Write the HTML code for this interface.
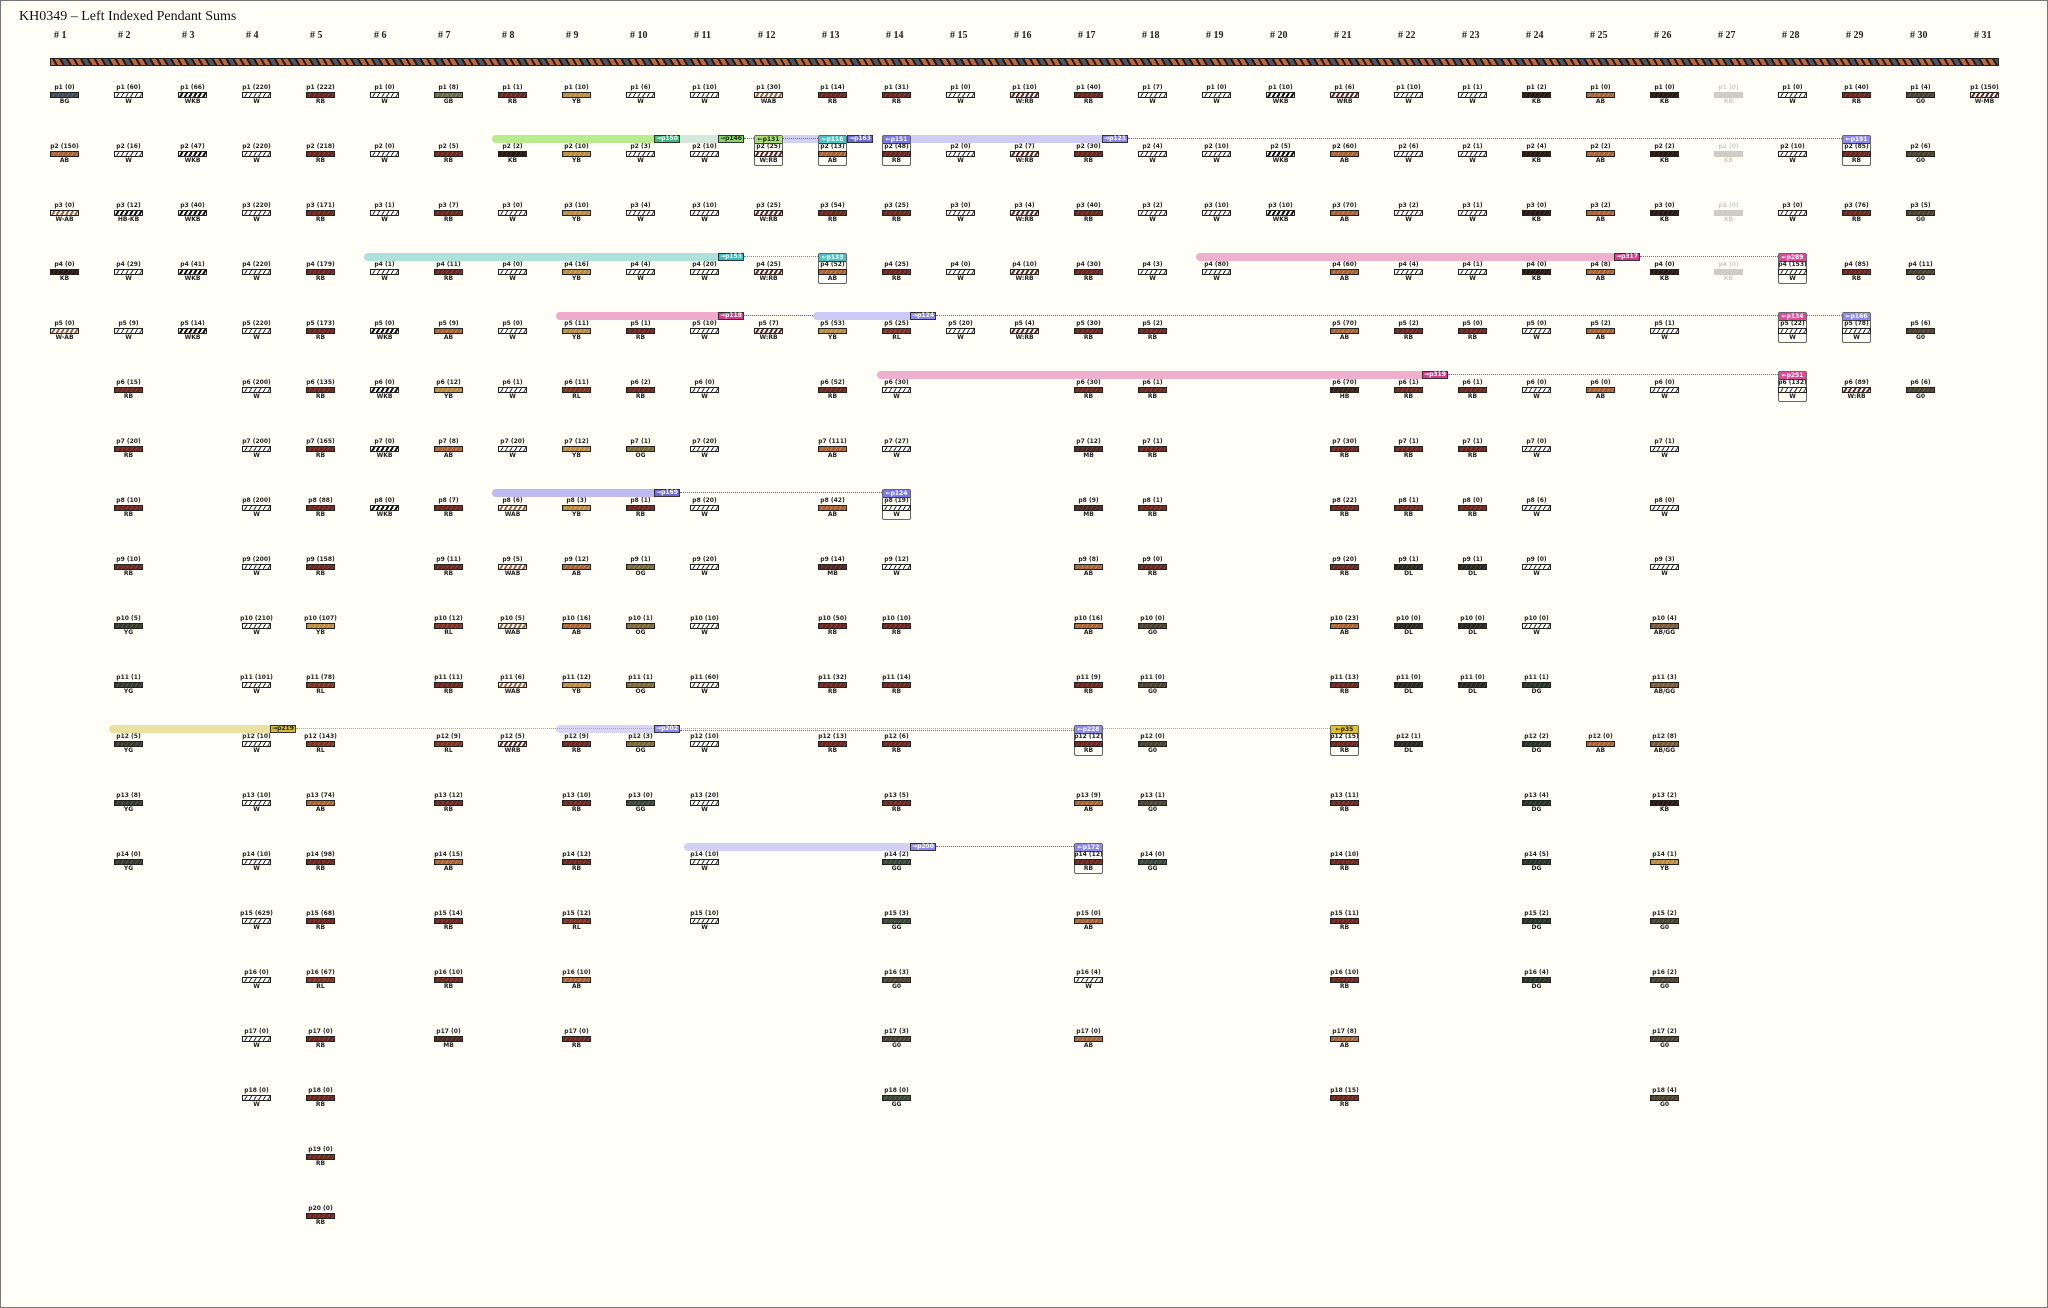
<!DOCTYPE html>
<html><head><meta charset="utf-8"><style>
*{box-sizing:border-box}
body{margin:0;width:2048px;height:1308px;background:#fffef7;border:1px solid #777;position:relative;overflow:hidden;font-family:"Liberation Sans",sans-serif}
.t{position:absolute;left:18px;top:7px;font:14px/18px "Liberation Serif",serif;color:#111}
.h{position:absolute;top:30px;font:10px/10px "Liberation Serif",serif;color:#222;font-weight:bold}
.rope{position:absolute;left:49px;top:57px;width:1949px;height:8px;border:1px solid #222;background:repeating-linear-gradient(60deg,#b86a40 0 4px,#2a1510 4px 6px,#b86a40 6px 10px,#2a1510 10px 12px,#4a5866 12px 16px,#2a1510 16px 18px)}
.k{position:absolute;top:84px;width:40px;font:bold 6px/6.5px "DejaVu Sans",sans-serif;text-align:center;color:#222;white-space:nowrap}
.k div{height:59px}
.k i{display:block;width:29px;height:6px;margin:0 auto 1px;border:1px solid #222}
.w{background:#fff repeating-linear-gradient(120deg,transparent 0 3px,#333 3px 4px)}
.wk{background:#fff repeating-linear-gradient(120deg,transparent 0 2px,#111 2px 4px)}
.wr{background:#fff repeating-linear-gradient(120deg,transparent 0 2px,#6b2820 2px 4px)}
.wa{background:#fff repeating-linear-gradient(120deg,transparent 0 2px,#a86238 2px 4px)}
.rb{background:repeating-linear-gradient(120deg,#6b2820 0 3px,#8e4036 3px 4px)}
.ab{background:repeating-linear-gradient(120deg,#a86238 0 3px,#c8844e 3px 4px)}
.kb{background:repeating-linear-gradient(120deg,#2a1810 0 3px,#48302a 3px 4px)}
.yb{background:repeating-linear-gradient(120deg,#b88c40 0 3px,#d4a860 3px 4px)}
.rl{background:repeating-linear-gradient(120deg,#7a3424 0 3px,#a05040 3px 4px)}
.yg{background:repeating-linear-gradient(120deg,#353a2e 0 3px,#555a48 3px 4px)}
.bg{background:repeating-linear-gradient(120deg,#3e4c58 0 3px,#5a6a78 3px 4px)}
.gb{background:repeating-linear-gradient(120deg,#6a6a48 0 3px,#8a8a64 3px 4px)}
.mb{background:repeating-linear-gradient(120deg,#4a2a22 0 3px,#6a4238 3px 4px)}
.hb{background:repeating-linear-gradient(120deg,#3a2018 0 3px,#583a2e 3px 4px)}
.og{background:repeating-linear-gradient(120deg,#7a6838 0 3px,#9a8850 3px 4px)}
.gg{background:repeating-linear-gradient(120deg,#3a4838 0 3px,#566454 3px 4px)}
.g0{background:repeating-linear-gradient(120deg,#4a4230 0 3px,#6a6048 3px 4px)}
.dl{background:repeating-linear-gradient(120deg,#28261e 0 3px,#46443a 3px 4px)}
.dg{background:repeating-linear-gradient(120deg,#263426 0 3px,#445244 3px 4px)}
.ag{background:repeating-linear-gradient(120deg,#7a5a38 0 3px,#9a7a50 3px 4px)}
.fd{opacity:.22}
.bd{position:absolute;height:8px}
.tg{position:absolute;height:8px;width:26px;border:1px solid #333;font:bold 6px/6px "DejaVu Sans",sans-serif;color:#fff;text-align:center}
.bx{position:absolute;width:29px;height:31px;border:1px solid #666;border-radius:2px}
.bx b{display:block;height:8px;border-bottom:1px solid #444;color:#fff;font:bold 6px/7px "DejaVu Sans",sans-serif;text-align:center}
.dt{position:absolute;height:0;border-top:1.5px dotted}
</style></head><body>
<div class="t">KH0349 – Left Indexed Pendant Sums</div>
<div class="h" style="left:53px"># 1</div><div class="h" style="left:117px"># 2</div><div class="h" style="left:181px"># 3</div><div class="h" style="left:245px"># 4</div><div class="h" style="left:309px"># 5</div><div class="h" style="left:373px"># 6</div><div class="h" style="left:437px"># 7</div><div class="h" style="left:501px"># 8</div><div class="h" style="left:565px"># 9</div><div class="h" style="left:629px"># 10</div><div class="h" style="left:693px"># 11</div><div class="h" style="left:757px"># 12</div><div class="h" style="left:821px"># 13</div><div class="h" style="left:885px"># 14</div><div class="h" style="left:949px"># 15</div><div class="h" style="left:1013px"># 16</div><div class="h" style="left:1077px"># 17</div><div class="h" style="left:1141px"># 18</div><div class="h" style="left:1205px"># 19</div><div class="h" style="left:1269px"># 20</div><div class="h" style="left:1333px"># 21</div><div class="h" style="left:1397px"># 22</div><div class="h" style="left:1461px"># 23</div><div class="h" style="left:1525px"># 24</div><div class="h" style="left:1589px"># 25</div><div class="h" style="left:1653px"># 26</div><div class="h" style="left:1717px"># 27</div><div class="h" style="left:1781px"># 28</div><div class="h" style="left:1845px"># 29</div><div class="h" style="left:1909px"># 30</div><div class="h" style="left:1973px"># 31</div>
<div class="rope"></div>

<div class="bd" style="left:491px;top:134px;width:162px;background:#b8ec8c;border-radius:4px 0 0 4px"></div>
<div class="bd" style="left:679px;top:134px;width:38px;background:#d6e8dc"></div>
<div class="bd" style="left:782px;top:134px;width:35px;background:#d0d0f2"></div>
<div class="bd" style="left:910px;top:134px;width:191px;background:#cfcdf6"></div>
<div class="bd" style="left:363px;top:252px;width:354px;background:#aee0dc;border-radius:4px 0 0 4px"></div>
<div class="bd" style="left:1195px;top:252px;width:418px;background:#eeb0cc;border-radius:4px 0 0 4px"></div>
<div class="bd" style="left:555px;top:311px;width:162px;background:#eeacca;border-radius:4px 0 0 4px"></div>
<div class="bd" style="left:812px;top:311px;width:97px;background:#cccaf4;border-radius:4px 0 0 4px"></div>
<div class="bd" style="left:876px;top:370px;width:545px;background:#eeb0cc;border-radius:4px 0 0 4px"></div>
<div class="bd" style="left:491px;top:488px;width:162px;background:#bcbaee;border-radius:4px 0 0 4px"></div>
<div class="bd" style="left:108px;top:724px;width:161px;background:#ebe0a0;border-radius:4px 0 0 4px"></div>
<div class="bd" style="left:555px;top:724px;width:98px;background:#d8d6f2;border-radius:4px 0 0 4px"></div>
<div class="bd" style="left:683px;top:842px;width:226px;background:#d2d0f4;border-radius:4px 0 0 4px"></div>

<div class="dt" style="left:743px;top:137px;width:10px;border-color:#3a9a50"></div>
<div class="dt" style="left:782px;top:137px;width:35px;border-color:#6060e0"></div>
<div class="dt" style="left:1127px;top:137px;width:714px;border-color:#6060e0"></div>
<div class="dt" style="left:743px;top:255px;width:74px;border-color:#30b0b8"></div>
<div class="dt" style="left:1639px;top:255px;width:138px;border-color:#d43c8c"></div>
<div class="dt" style="left:743px;top:314px;width:69px;border-color:#d43c8c"></div>
<div class="dt" style="left:935px;top:314px;width:842px;border-color:#6060e0"></div>
<div class="dt" style="left:1806px;top:314px;width:35px;border-color:#6060e0"></div>
<div class="dt" style="left:1447px;top:373px;width:330px;border-color:#d43c8c"></div>
<div class="dt" style="left:679px;top:491px;width:202px;border-color:#6060e0"></div>
<div class="dt" style="left:295px;top:727px;width:1034px;border-color:#d0b020"></div>
<div class="dt" style="left:679px;top:729px;width:394px;border-color:#6060e0"></div>
<div class="dt" style="left:935px;top:845px;width:138px;border-color:#6060e0"></div>

<div class="tg" style="left:653px;top:134px;background:#3cba7c">→p150</div>
<div class="tg" style="left:717px;top:134px;background:#86d860;color:#222">→p146</div>
<div class="tg" style="left:846px;top:134px;background:#6b6be0">→p163</div>
<div class="tg" style="left:1101px;top:134px;background:#8c8af2">→p121</div>
<div class="tg" style="left:717px;top:252px;background:#3cbcc0">→p153</div>
<div class="tg" style="left:1613px;top:252px;background:#d43c8c">→p317</div>
<div class="tg" style="left:717px;top:311px;background:#d43c8c">→p118</div>
<div class="tg" style="left:909px;top:311px;background:#8c8af2">→p124</div>
<div class="tg" style="left:1421px;top:370px;background:#d43c8c">→p319</div>
<div class="tg" style="left:653px;top:488px;background:#6b6be0">→p169</div>
<div class="tg" style="left:269px;top:724px;background:#d8bc30;color:#222">→p219</div>
<div class="tg" style="left:653px;top:724px;background:#8c8af2">→p202</div>
<div class="tg" style="left:909px;top:842px;background:#8c8af2">→p200</div>

<div class="bx" style="left:753px;top:134px"><b style="background:#a6e070;color:#222">←p131</b></div>
<div class="bx" style="left:817px;top:134px"><b style="background:#48c4c8">←p118</b></div>
<div class="bx" style="left:881px;top:134px"><b style="background:#7a78ee">←p151</b></div>
<div class="bx" style="left:1841px;top:134px"><b style="background:#8c8af2">←p191</b></div>
<div class="bx" style="left:817px;top:252px"><b style="background:#48c4c8">←p133</b></div>
<div class="bx" style="left:1777px;top:252px"><b style="background:#e04898">←p289</b></div>
<div class="bx" style="left:1777px;top:311px"><b style="background:#e04898">←p134</b></div>
<div class="bx" style="left:1841px;top:311px"><b style="background:#8c8af2">←p166</b></div>
<div class="bx" style="left:1777px;top:370px"><b style="background:#e04898">←p251</b></div>
<div class="bx" style="left:881px;top:488px"><b style="background:#7a78ee">←p124</b></div>
<div class="bx" style="left:1329px;top:724px"><b style="background:#e0c030;color:#222">←p35</b></div>
<div class="bx" style="left:1073px;top:724px"><b style="background:#8c8af2">←p228</b></div>
<div class="bx" style="left:1073px;top:842px"><b style="background:#8c8af2">←p172</b></div>

<div class="k" style="left:43.5px">
<div>p1 (0)<i class="bg"></i>BG</div><div>p2 (150)<i class="ab"></i>AB</div><div>p3 (0)<i class="wa"></i>W-AB</div><div>p4 (0)<i class="kb"></i>KB</div><div>p5 (0)<i class="wa"></i>W-AB</div>
</div>
<div class="k" style="left:107.5px">
<div>p1 (60)<i class="w"></i>W</div><div>p2 (16)<i class="w"></i>W</div><div>p3 (12)<i class="wk"></i>HB-KB</div><div>p4 (29)<i class="w"></i>W</div><div>p5 (9)<i class="w"></i>W</div><div>p6 (15)<i class="rb"></i>RB</div><div>p7 (20)<i class="rb"></i>RB</div><div>p8 (10)<i class="rb"></i>RB</div><div>p9 (10)<i class="rb"></i>RB</div><div>p10 (5)<i class="yg"></i>YG</div><div>p11 (1)<i class="yg"></i>YG</div><div>p12 (5)<i class="yg"></i>YG</div><div>p13 (8)<i class="yg"></i>YG</div><div>p14 (0)<i class="yg"></i>YG</div>
</div>
<div class="k" style="left:171.5px">
<div>p1 (66)<i class="wk"></i>WKB</div><div>p2 (47)<i class="wk"></i>WKB</div><div>p3 (40)<i class="wk"></i>WKB</div><div>p4 (41)<i class="wk"></i>WKB</div><div>p5 (14)<i class="wk"></i>WKB</div>
</div>
<div class="k" style="left:235.5px">
<div>p1 (220)<i class="w"></i>W</div><div>p2 (220)<i class="w"></i>W</div><div>p3 (220)<i class="w"></i>W</div><div>p4 (220)<i class="w"></i>W</div><div>p5 (220)<i class="w"></i>W</div><div>p6 (200)<i class="w"></i>W</div><div>p7 (200)<i class="w"></i>W</div><div>p8 (200)<i class="w"></i>W</div><div>p9 (200)<i class="w"></i>W</div><div>p10 (210)<i class="w"></i>W</div><div>p11 (101)<i class="w"></i>W</div><div>p12 (10)<i class="w"></i>W</div><div>p13 (10)<i class="w"></i>W</div><div>p14 (10)<i class="w"></i>W</div><div>p15 (629)<i class="w"></i>W</div><div>p16 (0)<i class="w"></i>W</div><div>p17 (0)<i class="w"></i>W</div><div>p18 (0)<i class="w"></i>W</div>
</div>
<div class="k" style="left:299.5px">
<div>p1 (222)<i class="rb"></i>RB</div><div>p2 (218)<i class="rb"></i>RB</div><div>p3 (171)<i class="rb"></i>RB</div><div>p4 (179)<i class="rb"></i>RB</div><div>p5 (173)<i class="rb"></i>RB</div><div>p6 (135)<i class="rb"></i>RB</div><div>p7 (165)<i class="rb"></i>RB</div><div>p8 (88)<i class="rb"></i>RB</div><div>p9 (158)<i class="rb"></i>RB</div><div>p10 (107)<i class="yb"></i>YB</div><div>p11 (78)<i class="rl"></i>RL</div><div>p12 (143)<i class="rl"></i>RL</div><div>p13 (74)<i class="ab"></i>AB</div><div>p14 (98)<i class="rb"></i>RB</div><div>p15 (68)<i class="rb"></i>RB</div><div>p16 (67)<i class="rl"></i>RL</div><div>p17 (0)<i class="rb"></i>RB</div><div>p18 (0)<i class="rb"></i>RB</div><div>p19 (0)<i class="rb"></i>RB</div><div>p20 (0)<i class="rb"></i>RB</div>
</div>
<div class="k" style="left:363.5px">
<div>p1 (0)<i class="w"></i>W</div><div>p2 (0)<i class="w"></i>W</div><div>p3 (1)<i class="w"></i>W</div><div>p4 (1)<i class="w"></i>W</div><div>p5 (0)<i class="wk"></i>WKB</div><div>p6 (0)<i class="wk"></i>WKB</div><div>p7 (0)<i class="wk"></i>WKB</div><div>p8 (0)<i class="wk"></i>WKB</div>
</div>
<div class="k" style="left:427.5px">
<div>p1 (8)<i class="gb"></i>GB</div><div>p2 (5)<i class="rb"></i>RB</div><div>p3 (7)<i class="rb"></i>RB</div><div>p4 (11)<i class="rb"></i>RB</div><div>p5 (9)<i class="ab"></i>AB</div><div>p6 (12)<i class="yb"></i>YB</div><div>p7 (8)<i class="ab"></i>AB</div><div>p8 (7)<i class="rb"></i>RB</div><div>p9 (11)<i class="rb"></i>RB</div><div>p10 (12)<i class="rl"></i>RL</div><div>p11 (11)<i class="rb"></i>RB</div><div>p12 (9)<i class="rl"></i>RL</div><div>p13 (12)<i class="rb"></i>RB</div><div>p14 (15)<i class="ab"></i>AB</div><div>p15 (14)<i class="rb"></i>RB</div><div>p16 (10)<i class="rb"></i>RB</div><div>p17 (0)<i class="mb"></i>MB</div>
</div>
<div class="k" style="left:491.5px">
<div>p1 (1)<i class="rb"></i>RB</div><div>p2 (2)<i class="kb"></i>KB</div><div>p3 (0)<i class="w"></i>W</div><div>p4 (0)<i class="w"></i>W</div><div>p5 (0)<i class="w"></i>W</div><div>p6 (1)<i class="w"></i>W</div><div>p7 (20)<i class="w"></i>W</div><div>p8 (6)<i class="wa"></i>WAB</div><div>p9 (5)<i class="wa"></i>WAB</div><div>p10 (5)<i class="wa"></i>WAB</div><div>p11 (6)<i class="wa"></i>WAB</div><div>p12 (5)<i class="wr"></i>WRB</div>
</div>
<div class="k" style="left:555.5px">
<div>p1 (10)<i class="yb"></i>YB</div><div>p2 (10)<i class="yb"></i>YB</div><div>p3 (10)<i class="yb"></i>YB</div><div>p4 (16)<i class="yb"></i>YB</div><div>p5 (11)<i class="yb"></i>YB</div><div>p6 (11)<i class="rl"></i>RL</div><div>p7 (12)<i class="yb"></i>YB</div><div>p8 (3)<i class="yb"></i>YB</div><div>p9 (12)<i class="ab"></i>AB</div><div>p10 (16)<i class="ab"></i>AB</div><div>p11 (12)<i class="yb"></i>YB</div><div>p12 (9)<i class="rb"></i>RB</div><div>p13 (10)<i class="rb"></i>RB</div><div>p14 (12)<i class="rb"></i>RB</div><div>p15 (12)<i class="rl"></i>RL</div><div>p16 (10)<i class="ab"></i>AB</div><div>p17 (0)<i class="rb"></i>RB</div>
</div>
<div class="k" style="left:619.5px">
<div>p1 (6)<i class="w"></i>W</div><div>p2 (3)<i class="w"></i>W</div><div>p3 (4)<i class="w"></i>W</div><div>p4 (4)<i class="w"></i>W</div><div>p5 (1)<i class="rb"></i>RB</div><div>p6 (2)<i class="rb"></i>RB</div><div>p7 (1)<i class="og"></i>OG</div><div>p8 (1)<i class="rb"></i>RB</div><div>p9 (1)<i class="og"></i>OG</div><div>p10 (1)<i class="og"></i>OG</div><div>p11 (1)<i class="og"></i>OG</div><div>p12 (3)<i class="og"></i>OG</div><div>p13 (0)<i class="gg"></i>GG</div>
</div>
<div class="k" style="left:683.5px">
<div>p1 (10)<i class="w"></i>W</div><div>p2 (10)<i class="w"></i>W</div><div>p3 (10)<i class="w"></i>W</div><div>p4 (20)<i class="w"></i>W</div><div>p5 (10)<i class="w"></i>W</div><div>p6 (0)<i class="w"></i>W</div><div>p7 (20)<i class="w"></i>W</div><div>p8 (20)<i class="w"></i>W</div><div>p9 (20)<i class="w"></i>W</div><div>p10 (10)<i class="w"></i>W</div><div>p11 (60)<i class="w"></i>W</div><div>p12 (10)<i class="w"></i>W</div><div>p13 (20)<i class="w"></i>W</div><div>p14 (10)<i class="w"></i>W</div><div>p15 (10)<i class="w"></i>W</div>
</div>
<div class="k" style="left:747.5px">
<div>p1 (30)<i class="wa"></i>WAB</div><div>p2 (25)<i class="wr"></i>W:RB</div><div>p3 (25)<i class="wr"></i>W:RB</div><div>p4 (25)<i class="wr"></i>W:RB</div><div>p5 (7)<i class="wr"></i>W:RB</div>
</div>
<div class="k" style="left:811.5px">
<div>p1 (14)<i class="rb"></i>RB</div><div>p2 (13)<i class="ab"></i>AB</div><div>p3 (54)<i class="rb"></i>RB</div><div>p4 (52)<i class="ab"></i>AB</div><div>p5 (53)<i class="yb"></i>YB</div><div>p6 (52)<i class="rb"></i>RB</div><div>p7 (111)<i class="ab"></i>AB</div><div>p8 (42)<i class="ab"></i>AB</div><div>p9 (14)<i class="mb"></i>MB</div><div>p10 (50)<i class="rb"></i>RB</div><div>p11 (32)<i class="rb"></i>RB</div><div>p12 (13)<i class="rb"></i>RB</div>
</div>
<div class="k" style="left:875.5px">
<div>p1 (31)<i class="rb"></i>RB</div><div>p2 (48)<i class="rb"></i>RB</div><div>p3 (25)<i class="rb"></i>RB</div><div>p4 (25)<i class="rb"></i>RB</div><div>p5 (25)<i class="rl"></i>RL</div><div>p6 (30)<i class="w"></i>W</div><div>p7 (27)<i class="w"></i>W</div><div>p8 (19)<i class="w"></i>W</div><div>p9 (12)<i class="w"></i>W</div><div>p10 (10)<i class="rb"></i>RB</div><div>p11 (14)<i class="rb"></i>RB</div><div>p12 (6)<i class="rb"></i>RB</div><div>p13 (5)<i class="rb"></i>RB</div><div>p14 (2)<i class="gg"></i>GG</div><div>p15 (3)<i class="gg"></i>GG</div><div>p16 (3)<i class="g0"></i>G0</div><div>p17 (3)<i class="g0"></i>G0</div><div>p18 (0)<i class="gg"></i>GG</div>
</div>
<div class="k" style="left:939.5px">
<div>p1 (0)<i class="w"></i>W</div><div>p2 (0)<i class="w"></i>W</div><div>p3 (0)<i class="w"></i>W</div><div>p4 (0)<i class="w"></i>W</div><div>p5 (20)<i class="w"></i>W</div>
</div>
<div class="k" style="left:1003.5px">
<div>p1 (10)<i class="wr"></i>W:RB</div><div>p2 (7)<i class="wr"></i>W:RB</div><div>p3 (4)<i class="wr"></i>W:RB</div><div>p4 (10)<i class="wr"></i>W:RB</div><div>p5 (4)<i class="wr"></i>W:RB</div>
</div>
<div class="k" style="left:1067.5px">
<div>p1 (40)<i class="rb"></i>RB</div><div>p2 (30)<i class="rb"></i>RB</div><div>p3 (40)<i class="rb"></i>RB</div><div>p4 (30)<i class="rb"></i>RB</div><div>p5 (30)<i class="rb"></i>RB</div><div>p6 (30)<i class="rb"></i>RB</div><div>p7 (12)<i class="mb"></i>MB</div><div>p8 (9)<i class="mb"></i>MB</div><div>p9 (8)<i class="ab"></i>AB</div><div>p10 (16)<i class="ab"></i>AB</div><div>p11 (9)<i class="rb"></i>RB</div><div>p12 (12)<i class="rb"></i>RB</div><div>p13 (9)<i class="ab"></i>AB</div><div>p14 (12)<i class="rb"></i>RB</div><div>p15 (0)<i class="ab"></i>AB</div><div>p16 (4)<i class="w"></i>W</div><div>p17 (0)<i class="ab"></i>AB</div>
</div>
<div class="k" style="left:1131.5px">
<div>p1 (7)<i class="w"></i>W</div><div>p2 (4)<i class="w"></i>W</div><div>p3 (2)<i class="w"></i>W</div><div>p4 (3)<i class="w"></i>W</div><div>p5 (2)<i class="rb"></i>RB</div><div>p6 (1)<i class="rb"></i>RB</div><div>p7 (1)<i class="rb"></i>RB</div><div>p8 (1)<i class="rb"></i>RB</div><div>p9 (0)<i class="rb"></i>RB</div><div>p10 (0)<i class="g0"></i>G0</div><div>p11 (0)<i class="g0"></i>G0</div><div>p12 (0)<i class="g0"></i>G0</div><div>p13 (1)<i class="g0"></i>G0</div><div>p14 (0)<i class="gg"></i>GG</div>
</div>
<div class="k" style="left:1195.5px">
<div>p1 (0)<i class="w"></i>W</div><div>p2 (10)<i class="w"></i>W</div><div>p3 (10)<i class="w"></i>W</div><div>p4 (80)<i class="w"></i>W</div>
</div>
<div class="k" style="left:1259.5px">
<div>p1 (10)<i class="wk"></i>WKB</div><div>p2 (5)<i class="wk"></i>WKB</div><div>p3 (10)<i class="wk"></i>WKB</div>
</div>
<div class="k" style="left:1323.5px">
<div>p1 (6)<i class="wr"></i>WRB</div><div>p2 (60)<i class="ab"></i>AB</div><div>p3 (70)<i class="ab"></i>AB</div><div>p4 (60)<i class="ab"></i>AB</div><div>p5 (70)<i class="ab"></i>AB</div><div>p6 (70)<i class="hb"></i>HB</div><div>p7 (30)<i class="rb"></i>RB</div><div>p8 (22)<i class="rb"></i>RB</div><div>p9 (20)<i class="rb"></i>RB</div><div>p10 (23)<i class="ab"></i>AB</div><div>p11 (13)<i class="rb"></i>RB</div><div>p12 (15)<i class="rb"></i>RB</div><div>p13 (11)<i class="rb"></i>RB</div><div>p14 (10)<i class="rb"></i>RB</div><div>p15 (11)<i class="rb"></i>RB</div><div>p16 (10)<i class="rb"></i>RB</div><div>p17 (8)<i class="ab"></i>AB</div><div>p18 (15)<i class="rb"></i>RB</div>
</div>
<div class="k" style="left:1387.5px">
<div>p1 (10)<i class="w"></i>W</div><div>p2 (6)<i class="w"></i>W</div><div>p3 (2)<i class="w"></i>W</div><div>p4 (4)<i class="w"></i>W</div><div>p5 (2)<i class="rb"></i>RB</div><div>p6 (1)<i class="rb"></i>RB</div><div>p7 (1)<i class="rb"></i>RB</div><div>p8 (1)<i class="rb"></i>RB</div><div>p9 (1)<i class="dl"></i>DL</div><div>p10 (0)<i class="dl"></i>DL</div><div>p11 (0)<i class="dl"></i>DL</div><div>p12 (1)<i class="dl"></i>DL</div>
</div>
<div class="k" style="left:1451.5px">
<div>p1 (1)<i class="w"></i>W</div><div>p2 (1)<i class="w"></i>W</div><div>p3 (1)<i class="w"></i>W</div><div>p4 (1)<i class="w"></i>W</div><div>p5 (0)<i class="rb"></i>RB</div><div>p6 (1)<i class="rb"></i>RB</div><div>p7 (1)<i class="rb"></i>RB</div><div>p8 (0)<i class="rb"></i>RB</div><div>p9 (1)<i class="dl"></i>DL</div><div>p10 (0)<i class="dl"></i>DL</div><div>p11 (0)<i class="dl"></i>DL</div>
</div>
<div class="k" style="left:1515.5px">
<div>p1 (2)<i class="kb"></i>KB</div><div>p2 (4)<i class="kb"></i>KB</div><div>p3 (0)<i class="kb"></i>KB</div><div>p4 (0)<i class="kb"></i>KB</div><div>p5 (0)<i class="w"></i>W</div><div>p6 (0)<i class="w"></i>W</div><div>p7 (0)<i class="w"></i>W</div><div>p8 (6)<i class="w"></i>W</div><div>p9 (0)<i class="w"></i>W</div><div>p10 (0)<i class="w"></i>W</div><div>p11 (1)<i class="dg"></i>DG</div><div>p12 (2)<i class="dg"></i>DG</div><div>p13 (4)<i class="dg"></i>DG</div><div>p14 (5)<i class="dg"></i>DG</div><div>p15 (2)<i class="dg"></i>DG</div><div>p16 (4)<i class="dg"></i>DG</div>
</div>
<div class="k" style="left:1579.5px">
<div>p1 (0)<i class="ab"></i>AB</div><div>p2 (2)<i class="ab"></i>AB</div><div>p3 (2)<i class="ab"></i>AB</div><div>p4 (8)<i class="ab"></i>AB</div><div>p5 (2)<i class="ab"></i>AB</div><div>p6 (0)<i class="ab"></i>AB</div><div></div><div></div><div></div><div></div><div></div><div>p12 (0)<i class="ab"></i>AB</div>
</div>
<div class="k" style="left:1643.5px">
<div>p1 (0)<i class="kb"></i>KB</div><div>p2 (2)<i class="kb"></i>KB</div><div>p3 (0)<i class="kb"></i>KB</div><div>p4 (0)<i class="kb"></i>KB</div><div>p5 (1)<i class="w"></i>W</div><div>p6 (0)<i class="w"></i>W</div><div>p7 (1)<i class="w"></i>W</div><div>p8 (0)<i class="w"></i>W</div><div>p9 (3)<i class="w"></i>W</div><div>p10 (4)<i class="ag"></i>AB/GG</div><div>p11 (3)<i class="ag"></i>AB/GG</div><div>p12 (8)<i class="ag"></i>AB/GG</div><div>p13 (2)<i class="kb"></i>KB</div><div>p14 (1)<i class="yb"></i>YB</div><div>p15 (2)<i class="g0"></i>G0</div><div>p16 (2)<i class="g0"></i>G0</div><div>p17 (2)<i class="g0"></i>G0</div><div>p18 (4)<i class="g0"></i>G0</div>
</div>
<div class="k fd" style="left:1707.5px">
<div>p1 (0)<i class="kb"></i>KB</div><div>p2 (0)<i class="kb"></i>KB</div><div>p3 (0)<i class="kb"></i>KB</div><div>p4 (0)<i class="kb"></i>KB</div>
</div>
<div class="k" style="left:1771.5px">
<div>p1 (0)<i class="w"></i>W</div><div>p2 (10)<i class="w"></i>W</div><div>p3 (0)<i class="w"></i>W</div><div>p4 (153)<i class="w"></i>W</div><div>p5 (22)<i class="w"></i>W</div><div>p6 (132)<i class="w"></i>W</div>
</div>
<div class="k" style="left:1835.5px">
<div>p1 (40)<i class="rb"></i>RB</div><div>p2 (85)<i class="rb"></i>RB</div><div>p3 (76)<i class="rb"></i>RB</div><div>p4 (85)<i class="rb"></i>RB</div><div>p5 (78)<i class="w"></i>W</div><div>p6 (89)<i class="wr"></i>W:RB</div>
</div>
<div class="k" style="left:1899.5px">
<div>p1 (4)<i class="g0"></i>G0</div><div>p2 (6)<i class="g0"></i>G0</div><div>p3 (5)<i class="g0"></i>G0</div><div>p4 (11)<i class="g0"></i>G0</div><div>p5 (6)<i class="g0"></i>G0</div><div>p6 (6)<i class="g0"></i>G0</div>
</div>
<div class="k" style="left:1963.5px">
<div>p1 (150)<i class="wr"></i>W-MB</div>
</div>
</body></html>
